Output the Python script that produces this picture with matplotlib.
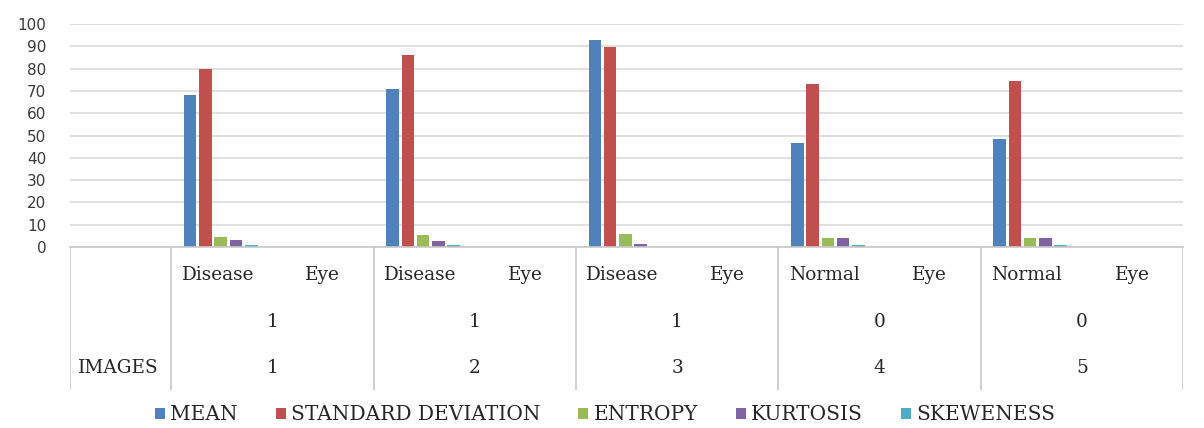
import matplotlib
matplotlib.use("Agg")
import matplotlib.pyplot as plt
import numpy as np

# ---- data ----
series_names = ["MEAN", "STANDARD DEVIATION", "ENTROPY", "KURTOSIS", "SKEWENESS"]
MEAN = [68, 71, 93, 46.5, 48.5]
STD_DEV = [80, 86, 89.5, 73, 74.5]
ENTROPY = [4.6, 5.2, 6.0, 3.9, 3.9]
KURTOSIS = [3.3, 2.5, 1.5, 3.9, 3.9]
SKEWENESS = [1.0, 1.0, 0.0, 0.9, 0.9]
row1_left = ["Disease", "Disease", "Disease", "Normal", "Normal"]
row1_right = ["Eye", "Eye", "Eye", "Eye", "Eye"]
row2_labels = ["1", "1", "1", "0", "0"]
row3_labels = ["1", "2", "3", "4", "5"]
row3_title = "IMAGES"
yticks = [0, 10, 20, 30, 40, 50, 60, 70, 80, 90, 100]

colors = ["#4F81BD", "#C0504D", "#9BBB59", "#8064A2", "#4BACC6"]
all_series = [MEAN, STD_DEV, ENTROPY, KURTOSIS, SKEWENESS]

W, H = 1204, 428
fig = plt.figure(figsize=(W / 100, H / 100), dpi=100)

x0, x1 = 70, 1183
ytop, ybase, ytab = 24, 247, 390
ax = fig.add_axes([x0 / W, 1 - ybase / H, (x1 - x0) / W, (ybase - ytop) / H])
tab = fig.add_axes([x0 / W, 1 - ytab / H, (x1 - x0) / W, (ytab - ybase) / H])

n = len(MEAN)
x = np.arange(n)
bw = 0.062
step = 0.0754
first = -0.406
handles = []
for k, (vals, c, name) in enumerate(zip(all_series, colors, series_names)):
    h = ax.bar(x + first + step * k, vals, width=bw, color=c, label=name, zorder=3)
    handles.append(h)

ax.set_xlim(-1.0, n - 0.5)
ax.set_ylim(0, 100)
ax.set_yticks(yticks)
ax.set_xticks([])
ax.tick_params(axis="y", length=0, pad=17, labelsize=11, labelcolor="#3a3a3a")
for lab in ax.get_yticklabels():
    lab.set_family("DejaVu Sans")
ax.grid(axis="y", color="#dadada", linewidth=1.2, zorder=0)
for s in ["top", "right", "left"]:
    ax.spines[s].set_visible(False)
ax.spines["bottom"].set_color("#c8c8c8")
ax.spines["bottom"].set_linewidth(1.2)
ax.spines["bottom"].set_zorder(4)

# ---- category table ----
tab.set_xlim(-1.0, n - 0.5)
tab.set_ylim(0, 1)
tab.axis("off")
bounds = np.concatenate([[-1.0], np.arange(-0.5, n, 1.0)])
tab.vlines(bounds, 0, 1, color="#c8c8c8", linewidth=1.2)

serif = "DejaVu Serif"
fs = 13.3
tc = "#262626"
r1, r2, r3 = 0.804, 0.476, 0.154
for i in range(n):
    tab.text(i - 0.5 + 0.052, r1, row1_left[i], ha="left", va="center",
             family=serif, fontsize=fs, color=tc)
    tab.text(i + 0.5 - 0.165, r1, row1_right[i], ha="right", va="center",
             family=serif, fontsize=fs, color=tc)
    tab.text(i, r2, row2_labels[i], ha="center", va="center",
             family=serif, fontsize=fs, color=tc)
    tab.text(i, r3, row3_labels[i], ha="center", va="center",
             family=serif, fontsize=fs, color=tc)
tab.text(-0.76, r3, row3_title, ha="center", va="center",
         family=serif, fontsize=fs, color=tc)

leg = fig.legend(handles=handles, labels=series_names, loc="center",
                 bbox_to_anchor=(605 / W, 1 - 415 / H), ncol=5, frameon=False,
                 handlelength=0.5, handleheight=0.5, handletextpad=0.25,
                 columnspacing=1.9, prop={"family": serif, "size": 14.5})
for t in leg.get_texts():
    t.set_color(tc)

fig.savefig("out.png", dpi=100)
